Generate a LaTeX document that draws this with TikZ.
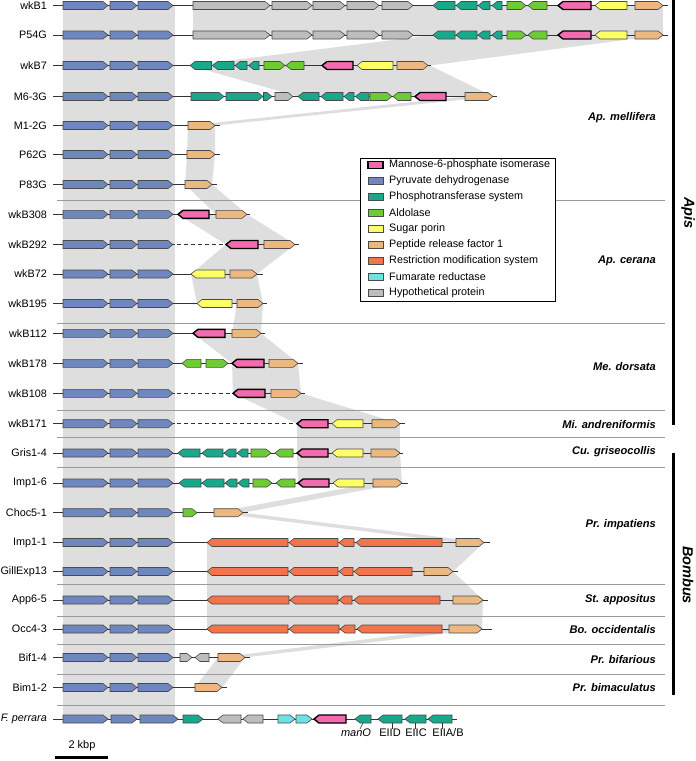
\documentclass[tikz,border=0pt]{standalone}
\usepackage{fontspec}
\setmainfont{Liberation Sans}
\definecolor{cpdh}{HTML}{6E87BF}
\definecolor{cpts}{HTML}{19A889}
\definecolor{cald}{HTML}{6DCB33}
\definecolor{cpor}{HTML}{FFFF66}
\definecolor{cprf}{HTML}{EDB880}
\definecolor{cmpi}{HTML}{F26BAF}
\definecolor{crm}{HTML}{F3744A}
\definecolor{cfum}{HTML}{6EE2E2}
\definecolor{chyp}{HTML}{BDBDBD}
\definecolor{geneout}{HTML}{4A4A4A}
\definecolor{cbb}{HTML}{333333}
\definecolor{csep}{HTML}{9A9A9A}
\definecolor{cshade}{HTML}{DEDEDE}
\tikzset{
  gene/.style={draw=geneout, line width=0.6pt, line join=miter},
  pdh/.style={gene, fill=cpdh},
  pts/.style={gene, fill=cpts},
  ald/.style={gene, fill=cald},
  por/.style={gene, fill=cpor},
  prf/.style={gene, fill=cprf},
  rms/.style={gene, fill=crm},
  fum/.style={gene, fill=cfum},
  hyp/.style={gene, fill=chyp},
  mpi/.style={draw=black, line width=1.4pt, fill=cmpi, line join=miter},
  bb/.style={draw=cbb, line width=0.8pt},
  bbdash/.style={draw=cbb, line width=0.8pt, dash pattern=on 4pt off 3pt},
  sepline/.style={draw=csep, line width=1pt},
  homol/.style={fill=cshade, draw=none},
  strain/.style={anchor=east, font=\fontsize{10.8}{12}\selectfont, inner sep=0pt},
  species/.style={anchor=east, font=\fontsize{11.1}{13}\selectfont\bfseries\itshape, inner sep=0pt},
  genus/.style={rotate=-90, font=\fontsize{14.5}{16}\selectfont\bfseries\itshape, inner sep=0pt},
  legtext/.style={anchor=west, font=\fontsize{10.8}{12}\selectfont, inner sep=0pt},
  genelab/.style={font=\fontsize{11}{12}\selectfont, inner sep=0pt},
  tickline/.style={draw=cbb, line width=0.6pt},
  groupbar/.style={draw=black, line width=3pt},
}
\newcommand{\geneR}[4]{\pgfmathsetmacro{\gtip}{min(5,(#2)-(#1))}\draw[#4] (#1,#3-4) -- ({#2-\gtip},#3-4) -- (#2,#3) -- ({#2-\gtip},#3+4) -- (#1,#3+4) -- cycle;}
\newcommand{\geneL}[4]{\pgfmathsetmacro{\gtip}{min(5,(#2)-(#1))}\draw[#4] (#2,#3-4) -- ({#1+\gtip},#3-4) -- (#1,#3) -- ({#1+\gtip},#3+4) -- (#2,#3+4) -- cycle;}
\newcommand{\pdhrow}[1]{\geneR{63}{108}{#1}{pdh}\geneR{110}{137}{#1}{pdh}\geneR{138}{173}{#1}{pdh}}
\newcommand{\topcluster}[1]{%
  \geneR{193}{270}{#1}{hyp}\geneR{272}{312}{#1}{hyp}\geneR{313}{345}{#1}{hyp}\geneR{347}{379}{#1}{hyp}\geneR{382}{413}{#1}{hyp}%
  \geneL{433}{455}{#1}{pts}\geneL{456}{477}{#1}{pts}\geneL{478}{490}{#1}{pts}\geneL{492}{502}{#1}{pts}%
  \geneR{507}{526}{#1}{ald}\geneL{528}{547}{#1}{ald}%
  \geneL{558}{591}{#1}{mpi}\geneL{595}{627}{#1}{por}\geneR{635}{663}{#1}{prf}}
\begin{document}
\begin{tikzpicture}[x=1pt,y=-1pt]
\useasboundingbox (0,0) rectangle (696,761);
% ---------- homology shading ----------
\fill[homol] (63,5.5) rectangle (175,719);
\fill[homol] (193,5.5) rectangle (663,35);
\fill[homol] (433,35) -- (663,35) -- (430,65.5) -- (190,65.5) -- cycle;
\fill[homol] (190,65.5) -- (430,65.5) -- (493,96.5) -- (298,96.5) -- cycle;
\fill[homol] (465,96.5) -- (493,96.5) -- (215,125.5) -- (188,125.5) -- cycle;
\fill[homol] (188,125.5) -- (215,125.5) -- (215,154.5) -- (187,154.5) -- cycle;
\fill[homol] (187,154.5) -- (215,154.5) -- (212,184.5) -- (185,184.5) -- cycle;
\fill[homol] (185,184.5) -- (212,184.5) -- (247,214.3) -- (216,214.3) -- cycle;
\fill[homol] (178,214.3) -- (247,214.3) -- (295,244.5) -- (226,244.5) -- cycle;
\fill[homol] (226,244.5) -- (295,244.5) -- (257,274) -- (191,274) -- cycle;
\fill[homol] (191,274) -- (257,274) -- (263,303.5) -- (197,303.5) -- cycle;
\fill[homol] (237,303.5) -- (263,303.5) -- (261,333.3) -- (232,333.3) -- cycle;
\fill[homol] (193,333.3) -- (261,333.3) -- (298,363.3) -- (232,363.3) -- cycle;
\fill[homol] (232,363.3) -- (298,363.3) -- (301,393.3) -- (233,393.3) -- cycle;
\fill[homol] (233,393.3) -- (301,393.3) -- (400,423.7) -- (297,423.7) -- cycle;
\fill[homol] (297,423.7) -- (400,423.7) -- (400,453) -- (297,453) -- cycle;
\fill[homol] (297,453) -- (400,453) -- (402,483) -- (298,483) -- cycle;
\fill[homol] (373,483) -- (402,483) -- (243,512.7) -- (214,512.7) -- cycle;
\fill[homol] (214,512.7) -- (243,512.7) -- (484,542.5) -- (456,542.5) -- cycle;
\fill[homol] (207,542.5) -- (484,542.5) -- (453,571.5) -- (207,571.5) -- cycle;
\fill[homol] (207,571.5) -- (453,571.5) -- (483,600) -- (207,600) -- cycle;
\fill[homol] (207,600) -- (483,600) -- (482,629) -- (207,629) -- cycle;
\fill[homol] (449,629) -- (482,629) -- (245,657.5) -- (218,657.5) -- cycle;
\fill[homol] (218,657.5) -- (245,657.5) -- (222,687.5) -- (195,687.5) -- cycle;
% ---------- group separators ----------
\foreach \sy in {200,323.3,410,437.7,467.3,584,616.7,644.3,674.3,705}
  \draw[sepline] (57,\sy) -- (665,\sy);
% ---------- group bars ----------
\coordinate (apisA) at (673,0);
\coordinate (apisB) at (673,425);
\coordinate (bomA) at (673,452.5);
\coordinate (bomB) at (673,695);
\draw[groupbar] (apisA) -- (apisB);
\draw[groupbar] (bomA) -- (bomB);
\node[genus] (gApis) at (688,213) {Apis};
\node[genus] (gBombus) at (688,575) {Bombus};
% ---------- backbones ----------
\draw[bb] (53,5.5) -- (668,5.5);
\draw[bb] (53,35) -- (668,35);
\draw[bb] (53,65.5) -- (431,65.5);
\draw[bb] (53,96.5) -- (497,96.5);
\draw[bb] (53,125.5) -- (220,125.5);
\draw[bb] (53,154.5) -- (220,154.5);
\draw[bb] (53,184.5) -- (217,184.5);
\draw[bb] (53,214.3) -- (250,214.3);
\draw[bb] (53,244.5) -- (175,244.5); \draw[bbdash] (177,244.5) -- (226,244.5); \draw[bb] (258,244.5) -- (299,244.5);
\draw[bb] (53,274) -- (263,274);
\draw[bb] (53,303.5) -- (267,303.5);
\draw[bb] (53,333.3) -- (265,333.3);
\draw[bb] (53,363.3) -- (303,363.3);
\draw[bb] (53,393.3) -- (175,393.3); \draw[bbdash] (177,393.3) -- (233,393.3); \draw[bb] (265,393.3) -- (305,393.3);
\draw[bb] (53,423.7) -- (175,423.7); \draw[bbdash] (177,423.7) -- (297,423.7); \draw[bb] (328,423.7) -- (405,423.7);
\draw[bb] (53,453) -- (403,453);
\draw[bb] (53,483) -- (408,483);
\draw[bb] (53,512.7) -- (248,512.7);
\draw[bb] (53,542.5) -- (490,542.5);
\draw[bb] (53,571.5) -- (458,571.5);
\draw[bb] (53,600) -- (488,600);
\draw[bb] (53,629) -- (492,629);
\draw[bb] (53,657.5) -- (250,657.5);
\draw[bb] (53,687.5) -- (227,687.5);
\draw[bb] (53,719) -- (457,719);
% ---------- genes ----------
% wkB1, P54G
\pdhrow{5.5}\topcluster{5.5}
\pdhrow{35}\topcluster{35}
% wkB7
\pdhrow{65.5}
\geneL{190}{211.5}{65.5}{pts}\geneL{212.5}{234}{65.5}{pts}\geneL{235}{247}{65.5}{pts}\geneL{248.5}{259}{65.5}{pts}
\geneR{264}{285}{65.5}{ald}\geneL{286}{304}{65.5}{ald}
\geneL{322}{353}{65.5}{mpi}\geneL{357}{393}{65.5}{por}\geneR{397}{428}{65.5}{prf}
% M6-3G
\pdhrow{96.5}
\geneR{191}{224}{96.5}{pts}\geneR{226}{263}{96.5}{pts}\geneR{263.5}{272}{96.5}{pts}
\geneR{275}{293}{96.5}{hyp}
\geneL{298}{319}{96.5}{pts}\geneL{321}{343}{96.5}{pts}\geneL{344}{354}{96.5}{pts}\geneL{355.5}{369}{96.5}{pts}
\geneR{370}{392}{96.5}{ald}\geneL{393}{411}{96.5}{ald}
\geneL{415}{446}{96.5}{mpi}\geneR{465}{493}{96.5}{prf}
% M1-2G, P62G, P83G
\pdhrow{125.5}\geneR{188}{215}{125.5}{prf}
\pdhrow{154.5}\geneR{187}{215}{154.5}{prf}
\pdhrow{184.5}\geneR{185}{212}{184.5}{prf}
% wkB308
\pdhrow{214.3}\geneL{178}{209}{214.3}{mpi}\geneR{216}{247}{214.3}{prf}
% wkB292
\pdhrow{244.5}\geneL{226}{258}{244.5}{mpi}\geneR{264}{295}{244.5}{prf}
% wkB72
\pdhrow{274}\geneL{191}{225}{274}{por}\geneR{230}{257}{274}{prf}
% wkB195
\pdhrow{303.5}\geneL{197}{232}{303.5}{por}\geneR{237}{263}{303.5}{prf}
% wkB112
\pdhrow{333.3}\geneL{193}{225}{333.3}{mpi}\geneR{232}{261}{333.3}{prf}
% wkB178
\pdhrow{363.3}\geneL{182}{201}{363.3}{ald}\geneR{206}{228}{363.3}{ald}\geneL{232}{264}{363.3}{mpi}\geneR{269}{298}{363.3}{prf}
% wkB108
\pdhrow{393.3}\geneL{233}{265}{393.3}{mpi}\geneR{271}{301}{393.3}{prf}
% wkB171
\pdhrow{423.7}\geneL{297}{328}{423.7}{mpi}\geneL{332}{363}{423.7}{por}\geneR{372}{400}{423.7}{prf}
% Gris1-4
\pdhrow{453}
\geneL{178}{200}{453}{pts}\geneL{202}{223}{453}{pts}\geneL{224}{236}{453}{pts}\geneL{237}{248}{453}{pts}
\geneR{251}{271}{453}{ald}\geneL{275}{293}{453}{ald}
\geneL{297}{328}{453}{mpi}\geneL{332}{363}{453}{por}\geneR{371}{400}{453}{prf}
% Imp1-6
\pdhrow{483}
\geneL{179}{201}{483}{pts}\geneL{202}{224}{483}{pts}\geneL{225}{237}{483}{pts}\geneL{238}{249}{483}{pts}
\geneR{253}{272}{483}{ald}\geneL{276}{295}{483}{ald}
\geneL{298}{329}{483}{mpi}\geneL{333}{364}{483}{por}\geneR{373}{402}{483}{prf}
% Choc5-1
\pdhrow{512.7}\geneR{183}{197}{512.7}{ald}\geneR{214}{243}{512.7}{prf}
% Imp1-1
\pdhrow{542.5}
\geneL{207}{288}{542.5}{rms}\geneL{289}{338}{542.5}{rms}\geneL{339}{354}{542.5}{rms}\geneL{356}{442}{542.5}{rms}\geneR{456}{484}{542.5}{prf}
% GillExp13
\pdhrow{571.5}
\geneL{207}{288}{571.5}{rms}\geneL{289}{338}{571.5}{rms}\geneL{339}{353}{571.5}{rms}\geneL{354}{412}{571.5}{rms}\geneR{424}{453}{571.5}{prf}
% App6-5
\pdhrow{600}
\geneL{207}{289}{600}{rms}\geneL{290}{338}{600}{rms}\geneL{339}{352}{600}{rms}\geneL{354}{440}{600}{rms}\geneR{453}{483}{600}{prf}
% Occ4-3
\pdhrow{629}
\geneL{207}{288}{629}{rms}\geneL{289}{339}{629}{rms}\geneL{340}{355}{629}{rms}\geneL{357}{442}{629}{rms}\geneR{449}{482}{629}{prf}
% Bif1-4
\pdhrow{657.5}\geneR{180}{192}{657.5}{hyp}\geneL{195}{209}{657.5}{hyp}\geneR{218}{245}{657.5}{prf}
% Bim1-2
\pdhrow{687.5}\geneR{195}{222}{687.5}{prf}
% F. perrara
\geneR{63}{108}{719}{pdh}\geneR{111}{137}{719}{pdh}\geneR{140}{178}{719}{pdh}
\geneR{183}{203}{719}{pts}
\geneL{218}{241}{719}{hyp}\geneL{243}{263}{719}{hyp}
\geneR{278}{295}{719}{fum}\geneR{296}{312}{719}{fum}
\geneL{314}{346}{719}{mpi}
\geneL{355}{371}{719}{pts}\geneL{378}{402}{719}{pts}\geneL{405}{426}{719}{pts}\geneL{428}{452}{719}{pts}
% gene labels under F. perrara
\node[genelab] (lmanO) at (356,733) {\itshape manO};
\node[genelab] (lEIID) at (390,733) {EIID};
\node[genelab] (lEIIC) at (416,733) {EIIC};
\node[genelab] (lEIIAB) at (448,733) {EIIA/B};
\draw[tickline] (363,723) -- (lmanO.north -| 360,0);
\draw[tickline] (392,723) -- (lEIID.north -| 392,0);
\draw[tickline] (415,723) -- (lEIIC.north -| 415,0);
\draw[tickline] (442,723) -- (lEIIAB.north -| 442,0);
% ---------- strain labels ----------
\node[strain] (s0) at (47,5.5) {wkB1};
\node[strain] (s1) at (47,35) {P54G};
\node[strain] (s2) at (47,65.5) {wkB7};
\node[strain] (s3) at (47,96.5) {M6-3G};
\node[strain] (s4) at (47,125.5) {M1-2G};
\node[strain] (s5) at (47,154.5) {P62G};
\node[strain] (s6) at (47,184.5) {P83G};
\node[strain] (s7) at (47,214.3) {wkB308};
\node[strain] (s8) at (47,244.5) {wkB292};
\node[strain] (s9) at (47,274) {wkB72};
\node[strain] (s10) at (47,303.5) {wkB195};
\node[strain] (s11) at (47,333.3) {wkB112};
\node[strain] (s12) at (47,363.3) {wkB178};
\node[strain] (s13) at (47,393.3) {wkB108};
\node[strain] (s14) at (47,423.7) {wkB171};
\node[strain] (s15) at (47,453) {Gris1-4};
\node[strain] (s16) at (47,483) {Imp1-6};
\node[strain] (s17) at (47,512.7) {Choc5-1};
\node[strain] (s18) at (47,542.5) {Imp1-1};
\node[strain] (s19) at (47,571.5) {GillExp13};
\node[strain] (s20) at (47,600) {App6-5};
\node[strain] (s21) at (47,629) {Occ4-3};
\node[strain] (s22) at (47,657.5) {Bif1-4};
\node[strain] (s23) at (47,687.5) {Bim1-2};
\node[strain] (s24) at (47,719) {\itshape F. perrara};
% ---------- species labels ----------
\node[species] (sp1) at (656,118) {Ap. mellifera};
\node[species] (sp2) at (656,261) {Ap. cerana};
\node[species] (sp3) at (656,366.7) {Me. dorsata};
\node[species] (sp4) at (656,424.3) {Mi. andreniformis};
\node[species] (sp5) at (656,451.7) {Cu. griseocollis};
\node[species] (sp6) at (656,525) {Pr. impatiens};
\node[species] (sp7) at (656,599.3) {St. appositus};
\node[species] (sp8) at (656,630) {Bo. occidentalis};
\node[species] (sp9) at (656,659.3) {Pr. bifarious};
\node[species] (sp10) at (656,687.3) {Pr. bimaculatus};
% ---------- legend ----------
\draw[fill=white, draw=black, line width=0.8pt] (360,158) rectangle (555,301);
\draw[mpi, line width=1.2pt] (368,161.5) rectangle (383,168.5);
\draw[pdh] (368,177.5) rectangle (383,184.5);
\draw[pts] (368,193.5) rectangle (383,200.5);
\draw[ald] (368,209.5) rectangle (383,216.5);
\draw[por] (368,225.5) rectangle (383,232.5);
\draw[prf] (368,241.5) rectangle (383,248.5);
\draw[rms] (368,257.5) rectangle (383,264.5);
\draw[fum] (368,273.5) rectangle (383,280.5);
\draw[hyp] (368,289.5) rectangle (383,296.5);
\node[legtext] (lg1) at (389,165) {Mannose-6-phosphate isomerase};
\node[legtext] (lg2) at (389,181) {Pyruvate dehydrogenase};
\node[legtext] (lg3) at (389,197) {Phosphotransferase system};
\node[legtext] (lg4) at (389,213) {Aldolase};
\node[legtext] (lg5) at (389,229) {Sugar porin};
\node[legtext] (lg6) at (389,245) {Peptide release factor 1};
\node[legtext] (lg7) at (389,261) {Restriction modification system};
\node[legtext] (lg8) at (389,277) {Fumarate reductase};
\node[legtext] (lg9) at (389,293) {Hypothetical protein};
% ---------- scale bar ----------
\coordinate (sbA) at (55,757);
\coordinate (sbB) at (108,757);
\draw[draw=black, line width=3pt] (sbA) -- (sbB);
\node[genelab] (sbl) at (82,746) {2 kbp};
\end{tikzpicture}
\end{document}
